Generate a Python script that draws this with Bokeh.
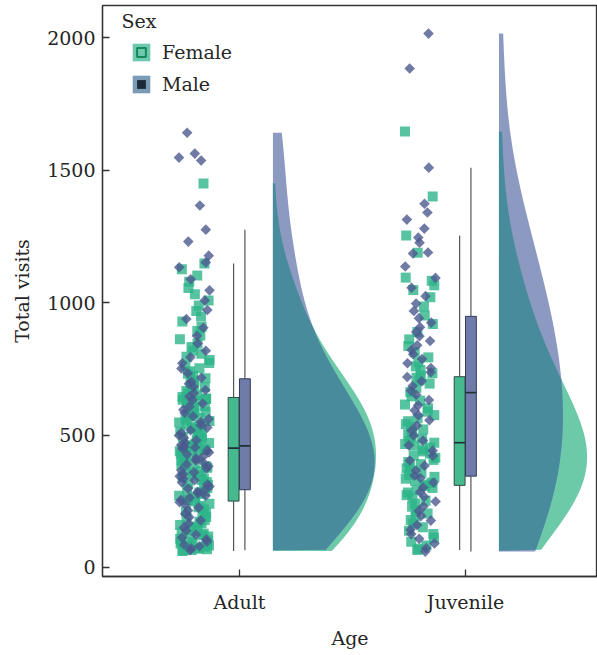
import numpy as np
from bokeh.plotting import figure
from bokeh.models import Range1d, FixedTicker, Legend, LegendItem, Label
from bokeh.embed import file_html
from bokeh.resources import INLINE

# ---- data -----------------------------------------------------------------
ages = ["Adult", "Juvenile"]
sexes = ["Female", "Male"]

adult_female = [
    62, 64, 66, 69, 71, 74, 78, 80, 83, 87, 91, 94, 99, 103, 108, 111, 117, 122, 127, 131,
    138, 142, 149, 155, 160, 166, 173, 179, 186, 191, 199, 206, 212, 219, 227, 233, 241, 249,
    255, 259, 266, 271, 277, 283, 288, 296, 300, 305, 312, 318, 323, 330, 336, 341, 348, 353,
    359, 364, 371, 376, 382, 388, 393, 399, 404, 410, 415, 421, 426, 431, 435, 439, 443, 446, 449,
    452, 456, 461, 467, 470, 476, 481, 487, 492, 497, 503, 508, 513, 519, 525, 530, 536, 541,
    547, 553, 558, 564, 570, 575, 581, 587, 592, 598, 604, 609, 615, 620, 625, 629, 633, 636, 638,
    643, 651, 657, 666, 673, 680, 689, 697, 705, 714, 723, 731, 741, 752, 761, 772, 783, 795,
    807, 818, 832, 845, 861, 876, 893, 909, 928, 947, 968, 989, 1008, 1031, 1055, 1078, 1102,
    1126, 1147, 1449,
]
adult_male = [
    65, 72, 80, 86, 97, 106, 113, 124, 139, 151, 166, 178, 190, 203, 215, 226, 237, 246, 255,
    263, 271, 279, 286, 292,
    298, 306, 313, 321, 329, 336, 344, 352, 359, 367, 374, 382, 389, 397, 404, 412, 419, 427,
    434, 442, 449, 453, 456,
    462, 471, 480, 489, 498, 508, 518, 528, 538, 549, 560, 571, 583, 595, 607, 619, 632, 645,
    658, 670, 682, 693,
    701, 716, 733, 751, 771, 793, 818, 845, 874, 905, 938, 972, 1008, 1046, 1088, 1133, 1151,
    1177, 1230, 1275, 1366, 1536, 1547, 1562, 1641,
]
juvenile_female = [
    66, 71, 83, 97, 112, 126, 139, 152, 166, 179, 192, 204, 216, 229, 241, 252, 263, 273, 283,
    292, 300, 307,
    313, 320, 327, 335, 342, 350, 358, 366, 374, 382, 390, 398, 406, 414, 422, 430, 438, 446,
    453, 460, 466, 471,
    477, 486, 494, 503, 512, 521, 531, 541, 552, 563, 575, 588, 601, 615, 630, 646, 662, 678,
    694, 706, 716, 724,
    733, 745, 759, 775, 793, 813, 836, 861, 889, 919, 951, 985, 1020, 1047, 1065, 1082, 1094,
    1188, 1253, 1400, 1645,
]
juvenile_male = [
    60, 73, 91, 108, 126, 142, 160, 177, 195, 213, 231, 249, 267, 285, 302, 321, 338,
    347, 366, 384, 404, 422, 441, 461, 479, 498, 517, 536, 556, 574, 593, 612, 632, 652,
    668, 685, 703, 719, 737, 753, 771, 787, 805, 821, 839, 855, 873, 889, 907, 924,
    941, 968, 996, 1024, 1056, 1093, 1136, 1185, 1189, 1226, 1245, 1279, 1313, 1340, 1373,
    1509, 1883, 2015,
]

y_ticks = [0, 500, 1000, 1500, 2000]

visits = {
    ("Adult", "Female"): adult_female,
    ("Adult", "Male"): adult_male,
    ("Juvenile", "Female"): juvenile_female,
    ("Juvenile", "Male"): juvenile_male,
}

# ---- styling --------------------------------------------------------------
FONT = "DejaVu Serif"
TXT = "#262626"
point_color = {"Female": "#2db48a", "Male": "#4b598e"}
box_fill = {"Female": "#47b98e", "Male": "#6f7ba8"}
box_line = {"Female": "#2c4c45", "Male": "#343c5c"}
cloud_only = {"Female": "#6ccaa8", "Male": "#8c99c1"}
cloud_overlap = "#478b9c"

rain_offset = -0.20      # jittered points, left of the category
rain_spread = 0.068
box_offset = {"Female": -0.026, "Male": 0.024}
box_width = 0.048
cloud_base = 0.148       # half violins start here, right of the category
cloud_peak = {           # widest point of each half violin, x units
    ("Adult", "Female"): 0.456,
    ("Adult", "Male"): 0.45,
    ("Juvenile", "Female"): 0.39,
    ("Juvenile", "Male"): 0.283,
}
bw_adjust = 1.7

p = figure(
    width=597, height=655, output_backend="svg", toolbar_location=None,
    x_range=Range1d(0.394, 2.584), y_range=Range1d(-34, 2121),
    min_border_left=102, min_border_right=0, min_border_top=5, min_border_bottom=79,
)
p.grid.visible = False
p.outline_line_color = "#333333"
p.outline_line_width = 1.3
p.background_fill_color = "white"
p.border_fill_color = "white"


def kde(vals, grid):
    v = np.asarray(vals, dtype=float)
    n = len(v)
    q75, q25 = np.percentile(v, [75, 25])
    bw = bw_adjust * 0.9 * min(v.std(ddof=1), (q75 - q25) / 1.34) * n ** -0.2
    z = (grid[:, None] - v[None, :]) / bw
    return np.exp(-0.5 * z ** 2).sum(axis=1) / (n * bw * np.sqrt(2 * np.pi))


for i, age in enumerate(ages):
    xc = i + 1
    base = xc + cloud_base

    # densities on a shared grid, trimmed to each group's range
    allv = visits[(age, "Female")] + visits[(age, "Male")]
    grid = np.linspace(min(allv), max(allv), 600)
    widths = {}
    for sex in sexes:
        v = visits[(age, sex)]
        d = kde(v, grid)
        d[(grid < min(v)) | (grid > max(v))] = 0.0
        widths[sex] = d / d.max() * cloud_peak[(age, sex)]
    wF, wM = widths["Female"], widths["Male"]
    x1 = np.full_like(grid, base)
    p.harea(x1=x1, x2=base + wF, y=grid, fill_color=cloud_only["Female"])
    p.harea(x1=x1, x2=base + wM, y=grid, fill_color=cloud_only["Male"])
    p.harea(x1=x1, x2=base + np.minimum(wF, wM), y=grid, fill_color=cloud_overlap)

    # jittered raw values
    for sex, angle, size, phase in [
        ("Female", 0.0, 10, 0.11),
        ("Male", np.pi / 4, 7.5, 0.37),
    ]:
        v = np.asarray(visits[(age, sex)], dtype=float)
        k = np.arange(len(v))
        jit = ((k * k * 0.6180339887 + k * 0.4142135 + phase + 0.29 * i) % 1.0) * 2 - 1
        p.scatter(xc + rain_offset + jit * rain_spread, v, marker="square", angle=angle,
                  size=size, fill_color=point_color[sex], fill_alpha=0.8, line_color=None)

    # box plots (Tukey whiskers, outliers not repeated)
    for sex in sexes:
        v = np.asarray(visits[(age, sex)], dtype=float)
        q1, med, q3 = np.percentile(v, [25, 50, 75])
        iqr = q3 - q1
        lo = v[v >= q1 - 1.5 * iqr].min()
        hi = v[v <= q3 + 1.5 * iqr].max()
        bx = xc + box_offset[sex]
        p.segment(x0=[bx, bx], y0=[lo, q3], x1=[bx, bx], y1=[q1, hi],
                  line_color="#555555", line_width=1.2)
        p.quad(left=[bx - box_width / 2], right=[bx + box_width / 2], bottom=[q1], top=[q3],
               fill_color=box_fill[sex], line_color=box_line[sex], line_width=1)
        p.segment(x0=[bx - box_width / 2], y0=[med], x1=[bx + box_width / 2], y1=[med],
                  line_color="#1d3034", line_width=1.6)

# ---- axes -----------------------------------------------------------------
for ax in (p.xaxis[0], p.yaxis[0]):
    ax.axis_line_color = "#333333"
    ax.axis_line_width = 1.3
    ax.major_tick_line_color = "#333333"
    ax.major_tick_line_width = 1.3
    ax.major_tick_in = 7
    ax.major_tick_out = 0
    ax.minor_tick_line_color = None
    ax.major_label_text_font = FONT
    ax.major_label_text_font_size = "19px"
    ax.major_label_text_color = TXT
    ax.axis_label_text_font = FONT
    ax.axis_label_text_font_size = "19px"
    ax.axis_label_text_font_style = "normal"
    ax.axis_label_text_color = TXT

p.xaxis.ticker = FixedTicker(ticks=[1, 2])
p.xaxis.major_label_overrides = {1: ages[0], 2: ages[1]}
p.xaxis.axis_label = "Age"
p.xaxis.major_label_standoff = 14
p.xaxis.axis_label_standoff = 11

p.yaxis.ticker = FixedTicker(ticks=y_ticks)
p.yaxis.axis_label = "Total visits"
p.yaxis.major_label_standoff = 7
p.yaxis.axis_label_standoff = 11

# ---- legend (key glyphs only, no data) -------------------------------------
nan = [float("nan")]
f_bg = p.quad(left=nan, right=nan, top=nan, bottom=nan, fill_color="#6cc9ae", line_color=None)
f_mk = p.scatter(x=nan, y=nan, marker="square", size=10, fill_color="#6cc9ae",
                 line_color="#17875c", line_width=2)
m_bg = p.quad(left=nan, right=nan, top=nan, bottom=nan, fill_color="#7a9ab6", line_color=None)
m_mk = p.scatter(x=nan, y=nan, marker="square", angle=np.pi / 4, size=10,
                 fill_color="#1b2a38", line_color=None)

legend = Legend(
    items=[LegendItem(label=sexes[0], renderers=[f_bg, f_mk]),
           LegendItem(label=sexes[1], renderers=[m_bg, m_mk])],
    location=(28, 481), padding=0, margin=0, spacing=10,
    glyph_width=22, glyph_height=22, label_standoff=10,
    label_text_font=FONT, label_text_font_size="19px", label_text_color=TXT,
    background_fill_alpha=0, border_line_color=None,
)
p.add_layout(legend)
p.add_layout(Label(x=19, y=556, x_units="screen", y_units="screen", text="Sex",
                   text_font=FONT, text_font_size="19px", text_color=TXT,
                   text_baseline="middle"))

open("out.html", "w").write(file_html(p, INLINE))
